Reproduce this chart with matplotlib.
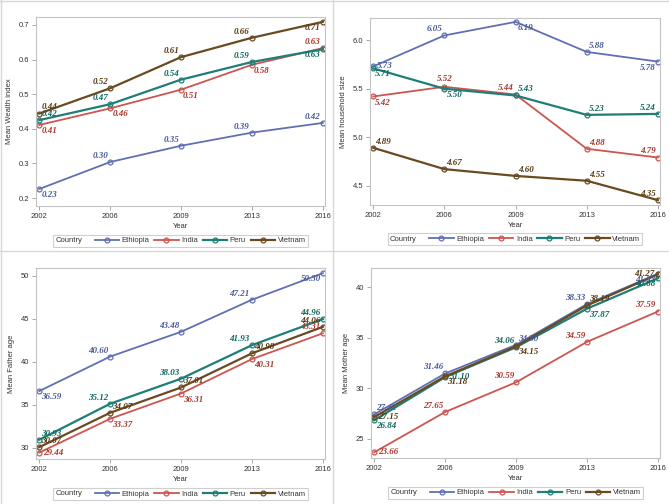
import matplotlib
matplotlib.use("Agg")
import matplotlib.pyplot as plt
from matplotlib.lines import Line2D
from matplotlib.offsetbox import HPacker

plt.rcParams['font.family'] = ['Liberation Sans', 'DejaVu Sans']

years = ['2002', '2006', '2009', '2013', '2016']
countries = ['Ethiopia', 'India', 'Peru', 'Vietnam']

# mean values per country
wealth = {
    'Ethiopia': [0.226, 0.304, 0.351, 0.389, 0.417],
    'India':    [0.411, 0.459, 0.513, 0.585, 0.633],
    'Peru':     [0.425, 0.471, 0.542, 0.593, 0.630],
    'Vietnam':  [0.444, 0.517, 0.607, 0.663, 0.709],
}
household = {
    'Ethiopia': [5.73, 6.05, 6.19, 5.88, 5.78],
    'India':    [5.42, 5.52, 5.44, 4.88, 4.79],
    'Peru':     [5.71, 5.50, 5.43, 5.23, 5.24],
    'Vietnam':  [4.89, 4.67, 4.60, 4.55, 4.35],
}
father = {
    'Ethiopia': [36.59, 40.60, 43.48, 47.21, 50.30],
    'India':    [29.44, 33.37, 36.31, 40.31, 43.31],
    'Peru':     [30.93, 35.12, 38.03, 41.93, 44.96],
    'Vietnam':  [30.07, 34.07, 37.01, 40.98, 44.06],
}
mother = {
    'Ethiopia': [27.42, 31.46, 34.30, 38.33, 41.33],
    'India':    [23.66, 27.65, 30.59, 34.59, 37.59],
    'Peru':     [26.84, 31.10, 34.06, 37.87, 40.88],
    'Vietnam':  [27.15, 31.18, 34.15, 38.19, 41.27],
}

# where each data label sits relative to its marker
wealth_pos = {
    'Ethiopia': ['lr', 'ul', 'ul', 'ul', 'ul'],
    'India':    ['lr', 'lr', 'lr', 'lr', 'ul'],
    'Peru':     ['ur', 'ul', 'ul', 'ul', 'll'],
    'Vietnam':  ['ur', 'ul', 'ul', 'ul', 'll'],
}
household_pos = {
    'Ethiopia': ['r', 'ul', 'lr', 'ur', 'll'],
    'India':    ['lr', 'u', 'ul', 'ur', 'ul'],
    'Peru':     ['lr', 'lr', 'ur', 'ur', 'ul'],
    'Vietnam':  ['ur', 'ur', 'ur', 'ur', 'ul'],
}
father_pos = {
    'Ethiopia': ['lr', 'ul', 'ul', 'ul', 'll'],
    'India':    ['r', 'lr', 'lr', 'lr', 'ul'],
    'Peru':     ['ur', 'ul', 'ul', 'ul', 'ul'],
    'Vietnam':  ['ur', 'ur', 'ur', 'ur', 'ul'],
}
mother_pos = {
    'Ethiopia': ['ur', 'ul', 'ur', 'ul', 'll'],
    'India':    ['r', 'ul', 'ul', 'ul', 'ul'],
    'Peru':     ['lr', 'r', 'ul', 'lr', 'll'],
    'Vietnam':  ['r', 'lr', 'lr', 'ur', 'l'],
}

line_colors = {'Ethiopia': '#6070B2', 'India': '#CC5550', 'Peru': '#1F7E76', 'Vietnam': '#6A4A20'}
text_colors = {'Ethiopia': '#4A5A9C', 'India': '#A8382E', 'Peru': '#0D6860', 'Vietnam': '#583810'}
widths = {'Ethiopia': 1.3, 'India': 1.3, 'Peru': 1.6, 'Vietnam': 1.6}

offsets = {
    'ul': ((-1.5, 1.5), 'right', 'bottom'),
    'ur': ((1.5, 1.5), 'left', 'bottom'),
    'lr': ((1.5, -1.5), 'left', 'top'),
    'll': ((-1.5, -1.5), 'right', 'top'),
    'r': ((2.5, 0), 'left', 'center'),
    'l': ((-2.5, 0), 'right', 'center'),
    'u': ((0, 2.5), 'center', 'bottom'),
}

fig = plt.figure(figsize=(6.69, 5.04), dpi=100)

panels = [
    (wealth, wealth_pos, 'Mean Wealth index', [0.0538, 0.5913, 0.432, 0.375],
     (0.177, 0.723), [0.2, 0.3, 0.4, 0.5, 0.6, 0.7], '{:.1f}'),
    (household, household_pos, 'Mean household size', [0.5531, 0.5933, 0.4335, 0.371],
     (4.30, 6.23), [4.5, 5.0, 5.5, 6.0], '{:.1f}'),
    (father, father_pos, 'Mean Father age', [0.0538, 0.0893, 0.432, 0.379],
     (28.7, 50.9), [30, 35, 40, 45, 50], '{:.0f}'),
    (mother, mother_pos, 'Mean Mother age', [0.5546, 0.0913, 0.432, 0.377],
     (23.1, 41.9), [25, 30, 35, 40], '{:.0f}'),
]

x = list(range(len(years)))

for data, pos, ylabel, rect, ylim, yticks, fmt in panels:
    ax = fig.add_axes(rect)
    handles = []
    for c in countries:
        h, = ax.plot(x, data[c], color=line_colors[c], lw=widths[c], marker='o',
                     ms=3.5, mfc='none', mec=line_colors[c], mew=0.9, label=c)
        handles.append(h)
        for xi, v, p in zip(x, data[c], pos[c]):
            off, ha, va = offsets[p]
            ax.annotate('%.2f' % v, (xi, v), xytext=off, textcoords='offset points',
                        ha=ha, va=va, fontsize=6.5, color=text_colors[c],
                        family='Liberation Serif', weight='bold', style='italic')
    ax.set_xlim(-0.045, 4.03)
    ax.set_ylim(*ylim)
    ax.set_xticks(x)
    ax.set_xticklabels(years)
    ax.set_yticks(yticks)
    ax.set_yticklabels([fmt.format(t) for t in yticks])
    ax.tick_params(labelsize=5.5, colors='#9a9a9a', labelcolor='#333333',
                   length=3, width=0.6, pad=2)
    for s in ax.spines.values():
        s.set_color('#c4c4c4')
        s.set_linewidth(0.8)
    ax.set_xlabel('Year', fontsize=5.5, color='#333333', labelpad=2.5)
    ax.set_ylabel(ylabel, fontsize=5.5, color='#333333', labelpad=4)

    leg = ax.legend(handles=handles, loc='center', bbox_to_anchor=(0.5, -0.183),
                    ncol=4, fontsize=5.5, frameon=True, fancybox=False, title='Country',
                    title_fontsize=5.5, handlelength=3.2, handletextpad=0.35,
                    columnspacing=0.6, borderpad=0.3, borderaxespad=0)
    leg.get_frame().set_edgecolor('#c4c4c4')
    leg.get_frame().set_linewidth(0.8)
    for t in leg.get_texts():
        t.set_color('#333333')
    leg.get_title().set_color('#333333')
    # put the "Country" title inline, to the left of the entries
    old = leg._legend_box
    box = HPacker(pad=old.pad, sep=9, align='center',
                  children=[leg._legend_title_box, leg._legend_handle_box])
    box.set_figure(fig)
    box.axes = ax
    box.set_offset(leg._findoffset)
    leg._legend_box = box

# panel dividers
fig.add_artist(Line2D([333 / 669, 333 / 669], [0, 1], color='#d8d8d8', lw=1))
fig.add_artist(Line2D([0, 1], [1 - 251 / 504, 1 - 251 / 504], color='#d8d8d8', lw=1))
fig.add_artist(Line2D([0, 1], [0.999, 0.999], color='#d8d8d8', lw=1))
fig.add_artist(Line2D([0.001, 0.001], [0, 1], color='#d8d8d8', lw=1))

fig.savefig('out.png', dpi=100)
